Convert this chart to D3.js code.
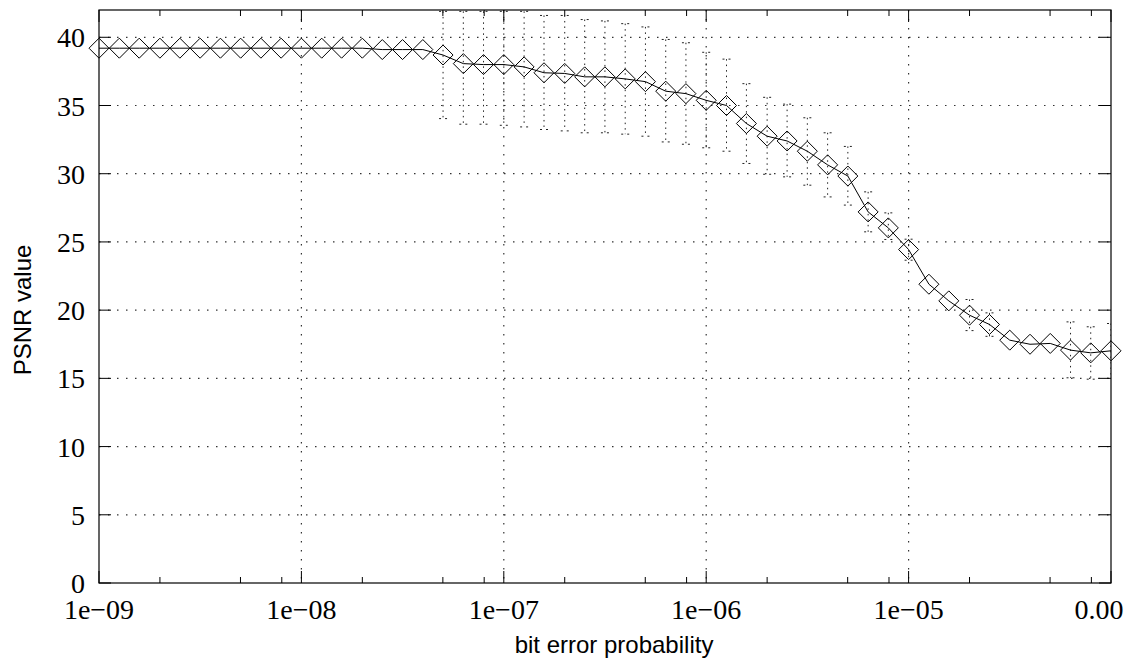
<!DOCTYPE html>
<html>
<head>
<meta charset="utf-8">
<script src="https://cdn.jsdelivr.net/npm/d3@7"></script>
<style>
  body { margin: 0; background: #fff; }
  svg { display: block; }
</style>
</head>
<body>
<div id="chart"></div>
<script>
// bit error probability (x) for each run
var bitErr = [
  1e-9, 1.26e-9, 1.58e-9, 2e-9, 2.51e-9, 3.16e-9, 3.98e-9, 5.01e-9, 6.31e-9, 7.94e-9,
  1e-8, 1.26e-8, 1.58e-8, 2e-8, 2.51e-8, 3.16e-8, 3.98e-8, 5.01e-8, 6.31e-8, 7.94e-8,
  1e-7, 1.26e-7, 1.58e-7, 2e-7, 2.51e-7, 3.16e-7, 3.98e-7, 5.01e-7, 6.31e-7, 7.94e-7,
  1e-6, 1.26e-6, 1.58e-6, 2e-6, 2.51e-6, 3.16e-6, 3.98e-6, 5.01e-6, 6.31e-6, 7.94e-6,
  1e-5, 1.26e-5, 1.58e-5, 2e-5, 2.51e-5, 3.16e-5, 3.98e-5, 5.01e-5, 6.31e-5, 7.94e-5,
  1e-4
]
// mean PSNR
var psnr = [
  39.2, 39.2, 39.2, 39.2, 39.2, 39.2, 39.2, 39.2, 39.2, 39.2,
  39.2, 39.2, 39.2, 39.2, 39.1, 39.1, 39.1, 38.7, 38.07, 38.0,
  38.0, 37.83, 37.4, 37.35, 37.1, 37.1, 36.95, 36.75, 36.05, 35.87,
  35.38, 35.0, 33.68, 32.75, 32.4, 31.65, 30.65, 29.83, 27.2, 26.03,
  24.44, 21.9, 20.68, 19.63, 18.95, 17.8, 17.5, 17.56, 17.07, 16.87,
  17.02
]
// error bar ends (null = no bar drawn)
var errHigh = [
  null, null, null, null, null, null, null, null, null, null,
  null, null, null, null, null, null, null, 41.9, 41.9, 41.9,
  41.9, 41.9, 41.6, 41.6, 41.3, 41.2, 41.0, 40.76, 39.84, 39.6,
  38.9, 38.4, 36.6, 35.6, 35.1, 34.1, 33.0, 32.0, 28.67, 27.13,
  25.2, null, null, 20.78, 19.8, null, null, null, 19.14, 18.78,
  19.02
]
var errLow = [
  null, null, null, null, null, null, null, null, null, null,
  null, null, null, null, null, null, null, 34.04, 33.63, 33.63,
  33.55, 33.43, 33.24, 33.14, 33.0, 33.0, 32.9, 32.75, 32.33, 32.16,
  31.9, 31.65, 30.75, 29.96, 29.77, 29.16, 28.3, 27.7, 25.74, 25.18,
  23.66, null, null, 18.5, 18.08, null, null, null, 15.04, 14.94,
  15.0
]
var xTicks = [1e-9, 1e-8, 1e-7, 1e-6, 1e-5, 1e-4]
var xTickLabels = ['1e\u221209', '1e\u221208', '1e\u221207', '1e\u221206', '1e\u221205', '0.00']
var xMinorSteps = [2, 5, 8]
var yTicks = [0, 5, 10, 15, 20, 25, 30, 35, 40]

var w = 1131
var h = 666
var pL = 99, pR = 1111, pT = 10, pB = 583

var x = d3.scaleLog().domain([1e-9, 1e-4]).range([pL, pR])
var y = d3.scaleLinear().domain([0, 42]).range([pB, pT])

var svg = d3.select('#chart').append('svg')
  .attr('width', w)
  .attr('height', h)

svg.append('defs').append('clipPath')
  .attr('id', 'plot-clip')
  .append('rect')
  .attr('x', pL).attr('y', pT)
  .attr('width', pR - pL).attr('height', pB - pT)

var data = bitErr.map((d, i) => ({ x: d, y: psnr[i], lo: errLow[i], hi: errHigh[i] }))

// grid
var grid = svg.append('g').attr('class', 'grid')
grid.selectAll('line.gy')
  .data(yTicks.slice(1))
  .enter().append('line')
  .attr('class', 'gy')
  .attr('x1', pL).attr('x2', pR)
  .attr('y1', d => y(d)).attr('y2', d => y(d))
grid.selectAll('line.gx')
  .data(xTicks.slice(1, -1))
  .enter().append('line')
  .attr('class', 'gx')
  .attr('y1', pT).attr('y2', pB)
  .attr('x1', d => x(d)).attr('x2', d => x(d))
grid.selectAll('line')
  .style('stroke', '#333')
  .style('stroke-width', 1.2)
  .style('stroke-dasharray', '1.5,7.5')

// error bars
var plot = svg.append('g').attr('clip-path', 'url(#plot-clip)')
var bars = plot.selectAll('g.err')
  .data(data.filter(d => d.hi !== null))
  .enter().append('g')
  .attr('class', 'err')
  .style('stroke', '#222')
  .style('stroke-width', 1)
bars.append('line')
  .attr('x1', d => x(d.x)).attr('x2', d => x(d.x))
  .attr('y1', d => y(d.hi)).attr('y2', d => y(d.lo))
  .style('stroke-dasharray', '1.5,4')
bars.selectAll('line.cap')
  .data(d => [d.hi, d.lo].map(v => ({ x: d.x, v: v })))
  .enter().append('line')
  .attr('class', 'cap')
  .attr('x1', d => x(d.x) - 4).attr('x2', d => x(d.x) + 4)
  .attr('y1', d => y(d.v)).attr('y2', d => y(d.v))
  .style('stroke-dasharray', '2,4')

// mean line
var line = d3.line().x(d => x(d.x)).y(d => y(d.y))
plot.append('path')
  .datum(data)
  .attr('d', line)
  .style('fill', 'none')
  .style('stroke', '#000')
  .style('stroke-width', 1)

// diamond markers
svg.selectAll('path.marker')
  .data(data)
  .enter().append('path')
  .attr('class', 'marker')
  .attr('d', d => {
    var cx = x(d.x), cy = y(d.y), r = 10
    return 'M' + (cx - r) + ',' + cy + 'L' + cx + ',' + (cy - r) + 'L' + (cx + r) + ',' + cy + 'L' + cx + ',' + (cy + r) + 'Z'
  })
  .style('fill', 'none')
  .style('stroke', '#000')
  .style('stroke-width', 1)

// ticks (inward, mirrored)
var ticks = svg.append('g').style('stroke', '#000').style('stroke-width', 1)
var minor = []
xTicks.slice(0, -1).forEach(t => xMinorSteps.forEach(m => minor.push(t * m)))
ticks.selectAll('line.xmaj')
  .data(xTicks)
  .enter().append('line')
  .attr('class', 'xmaj')
  .attr('x1', d => x(d)).attr('x2', d => x(d))
  .attr('y1', pB).attr('y2', pB - 12)
ticks.selectAll('line.xmajt')
  .data(xTicks)
  .enter().append('line')
  .attr('class', 'xmajt')
  .attr('x1', d => x(d)).attr('x2', d => x(d))
  .attr('y1', pT).attr('y2', pT + 12)
ticks.selectAll('line.xmin')
  .data(minor)
  .enter().append('line')
  .attr('class', 'xmin')
  .attr('x1', d => x(d)).attr('x2', d => x(d))
  .attr('y1', pB).attr('y2', pB - 6)
ticks.selectAll('line.xmint')
  .data(minor)
  .enter().append('line')
  .attr('class', 'xmint')
  .attr('x1', d => x(d)).attr('x2', d => x(d))
  .attr('y1', pT).attr('y2', pT + 6)
ticks.selectAll('line.ymaj')
  .data(yTicks)
  .enter().append('line')
  .attr('class', 'ymaj')
  .attr('x1', pL).attr('x2', pL + 12)
  .attr('y1', d => y(d)).attr('y2', d => y(d))
ticks.selectAll('line.ymajr')
  .data(yTicks)
  .enter().append('line')
  .attr('class', 'ymajr')
  .attr('x1', pR).attr('x2', pR - 12)
  .attr('y1', d => y(d)).attr('y2', d => y(d))

// border
svg.append('rect')
  .attr('x', pL).attr('y', pT)
  .attr('width', pR - pL).attr('height', pB - pT)
  .style('fill', 'none')
  .style('stroke', '#000')
  .style('stroke-width', 1.2)

// tick labels
svg.selectAll('text.ylab')
  .data(yTicks)
  .enter().append('text')
  .attr('class', 'ylab')
  .attr('x', 85)
  .attr('y', d => y(d) + 10)
  .attr('text-anchor', 'end')
  .style('font-family', '"Liberation Serif", serif')
  .style('font-size', '28px')
  .text(d => d)

svg.selectAll('text.xlab')
  .data(xTicks)
  .enter().append('text')
  .attr('class', 'xlab')
  .attr('x', d => x(d))
  .attr('dx', (d, i) => i === xTicks.length - 1 ? -12 : 0)
  .attr('y', 619)
  .attr('text-anchor', 'middle')
  .style('font-family', '"Liberation Serif", serif')
  .style('font-size', '28px')
  .text((d, i) => xTickLabels[i])

// axis titles
svg.append('text')
  .attr('x', 614)
  .attr('y', 653)
  .attr('text-anchor', 'middle')
  .style('font-family', '"Liberation Sans", Arial, sans-serif')
  .style('font-size', '24px')
  .text('bit error probability')

svg.append('text')
  .attr('transform', 'translate(31,310) rotate(-90)')
  .attr('text-anchor', 'middle')
  .style('font-family', '"Liberation Sans", Arial, sans-serif')
  .style('font-size', '24px')
  .text('PSNR value')
</script>
</body>
</html>
